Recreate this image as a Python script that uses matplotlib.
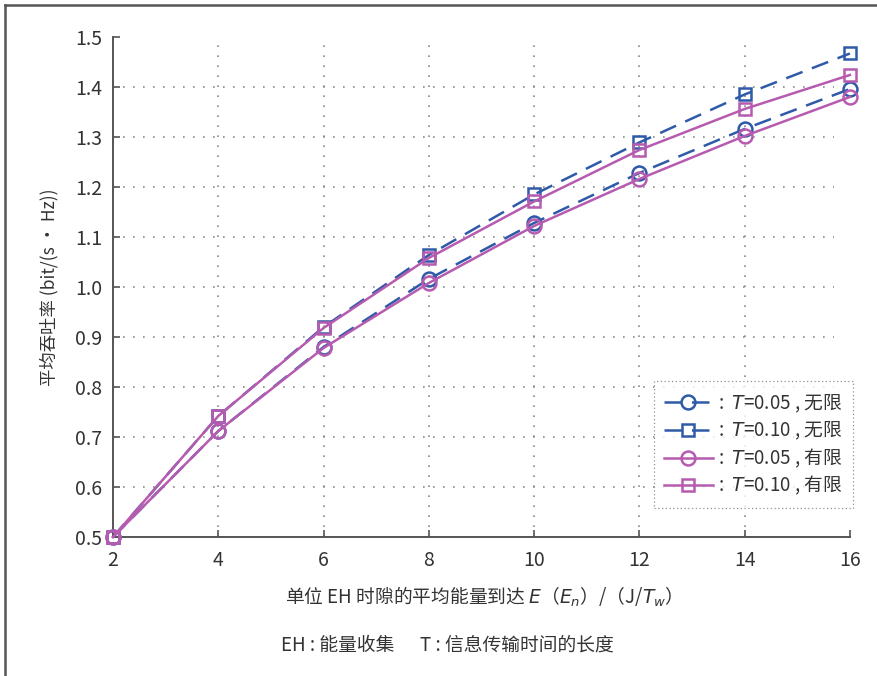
import numpy as np
import matplotlib
matplotlib.use('Agg')
import matplotlib.pyplot as plt
from matplotlib.lines import Line2D

plt.rcParams['font.family'] = ['Noto Sans CJK SC', 'DejaVu Sans']
plt.rcParams['font.weight'] = 'light'
plt.rcParams['mathtext.fontset'] = 'dejavusans'
plt.rcParams['axes.unicode_minus'] = False

# 数据
x = [2, 4, 6, 8, 10, 12, 14, 16]
t005_inf = [0.500, 0.712, 0.880, 1.016, 1.128, 1.228, 1.316, 1.396]
t010_inf = [0.500, 0.742, 0.920, 1.064, 1.185, 1.289, 1.385, 1.467]
t005_fin = [0.500, 0.712, 0.878, 1.008, 1.122, 1.216, 1.302, 1.380]
t010_fin = [0.500, 0.742, 0.918, 1.058, 1.171, 1.274, 1.356, 1.424]
labels = [r':  $T$=0.05 , 无限', r':  $T$=0.10 , 无限',
          r':  $T$=0.05 , 有限', r':  $T$=0.10 , 有限']
yticks = [0.5, 0.6, 0.7, 0.8, 0.9, 1.0, 1.1, 1.2, 1.3, 1.4, 1.5]
xticks = [2, 4, 6, 8, 10, 12, 14, 16]

blue = '#2f5aa8'
pink = '#b65bb0'
txt = '#333333'
grid_c = '#8a8a8a'

fig = plt.figure(figsize=(8.78, 6.76), dpi=100)
ax = fig.add_axes([0.1287, 0.2056, 0.8393, 0.7397])

# 网格 (点线, 不到边)
ax.hlines(yticks[1:-1], 2, 15.7, colors=grid_c, linestyles=(0, (1, 5)), linewidth=1.2, zorder=1)
ax.vlines(xticks[1:-1], 0.5, 1.488, colors=grid_c, linestyles=(0, (1, 5)), linewidth=1.2, zorder=1)

lw = 1.8
ax.plot(x, t005_inf, color=blue, lw=lw, ls=(0, (7, 4)), marker='o', ms=10,
        mfc='none', mec=blue, mew=1.8, label=labels[0], zorder=3, clip_on=False)
ax.plot(x, t010_inf, color=blue, lw=lw, ls=(0, (7, 4)), marker='s', ms=9,
        mfc='none', mec=blue, mew=1.8, label=labels[1], zorder=3, clip_on=False)
ax.plot(x, t005_fin, color=pink, lw=lw, ls='-', marker='o', ms=10,
        mfc='none', mec=pink, mew=1.8, label=labels[2], zorder=4, clip_on=False)
ax.plot(x, t010_fin, color=pink, lw=lw, ls='-', marker='s', ms=9,
        mfc='none', mec=pink, mew=1.8, label=labels[3], zorder=4, clip_on=False)

ax.set_xlim(2, 16)
ax.set_ylim(0.5, 1.5)
ax.set_xticks(xticks)
ax.set_yticks(yticks)
ax.set_yticklabels(['%.1f' % v for v in yticks])
ax.tick_params(direction='in', length=5, width=1.2, colors='#555555',
               labelcolor=txt, labelsize=14)
ax.tick_params(axis='x', pad=9)
ax.tick_params(axis='y', pad=8)
for s in ['top', 'right']:
    ax.spines[s].set_visible(False)
for s in ['left', 'bottom']:
    ax.spines[s].set_color('#555555')
    ax.spines[s].set_linewidth(1.4)

ax.set_ylabel('平均吞吐率 (bit/(s · Hz))', fontsize=12.5, color=txt, labelpad=12)
fig.text(0.545, 0.117, r'单位 EH 时隙的平均能量到达 $E$（$E_n$）/（J/$T_w$）',
         ha='center', va='center', fontsize=13.5, color=txt)
fig.text(0.51, 0.046, 'EH : 能量收集      T : 信息传输时间的长度',
         ha='center', va='center', fontsize=13.5, color=txt)

leg = ax.legend(loc='upper right', bbox_to_anchor=(0.9715, 0.4364),
                bbox_transform=fig.transFigure, fontsize=13.5, frameon=True,
                fancybox=False, handlelength=2.6, handletextpad=0.3,
                labelspacing=0.22, borderpad=0.55, borderaxespad=0,
                labelcolor=txt)
leg.get_frame().set_edgecolor('#777777')
leg.get_frame().set_linestyle((0, (1, 2)))
leg.get_frame().set_linewidth(0.9)

# 外框
fig.add_artist(Line2D([0.0057, 0.0057], [0.0, 0.9926], transform=fig.transFigure,
                      color='#555555', lw=1.8))
fig.add_artist(Line2D([0.0057, 1.0], [0.9926, 0.9926], transform=fig.transFigure,
                      color='#555555', lw=1.8))

fig.savefig('out.png', dpi=100)
